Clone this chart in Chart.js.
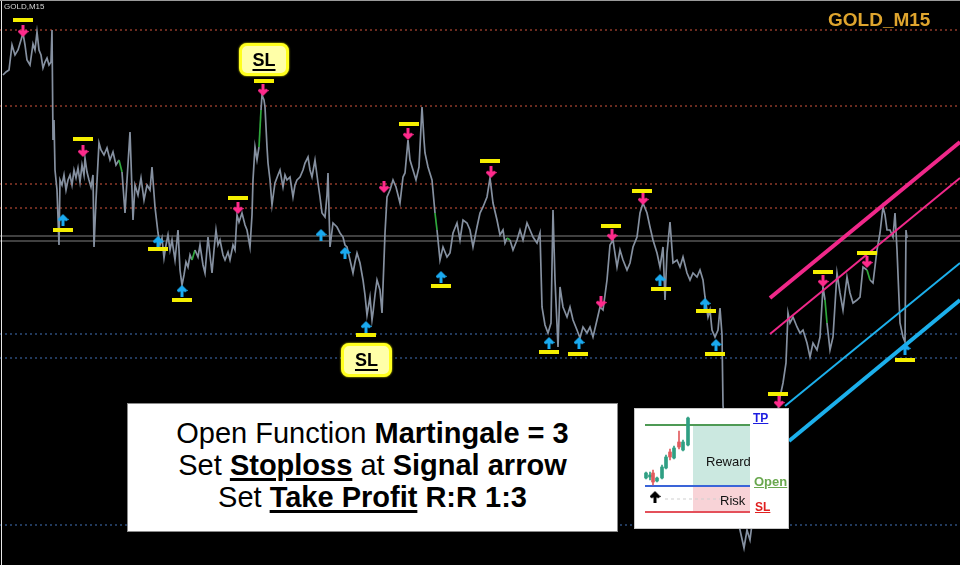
<!DOCTYPE html>
<html>
<head>
<meta charset="utf-8">
<script src="https://cdn.jsdelivr.net/npm/chart.js@4.4.0/dist/chart.umd.min.js"></script>
<style>
body{margin:0;background:#000;}
#wrap{position:relative;width:960px;height:565px;background:#000;overflow:hidden;font-family:"Liberation Sans",Arial,sans-serif;}
#main{position:absolute;left:0;top:0;}
.abs{position:absolute;white-space:nowrap;}
.slbox{position:absolute;box-sizing:border-box;background:#ffffa8;border:3px solid #ffff1e;border-radius:8px;
  display:flex;align-items:center;justify-content:center;font-weight:bold;font-size:18px;line-height:18px;color:#000;
  box-shadow:0 0 2px #ff0;}
.slbox span{text-decoration:underline;text-decoration-thickness:2px;text-underline-offset:3px;}
#note{position:absolute;left:127px;top:403px;width:491px;height:129px;box-sizing:border-box;background:#fff;border:1px solid #8a8a8a;}
#note div{position:absolute;left:0;right:0;top:13px;text-align:center;font-size:29px;line-height:32px;color:#000;}
#note u{text-decoration-thickness:3px;text-underline-offset:3px;}
#inset{position:absolute;left:635px;top:409px;background:#fff;outline:1px solid #c9c9c9;}
</style>
</head>
<body>
<div id="wrap">
  <canvas id="main" width="960" height="565"></canvas>
  <div class="abs" style="left:1px;top:0;width:1px;height:565px;background:#e8e8e8"></div>
  <div class="abs" style="left:0;top:0;width:960px;height:1px;background:#9a9a9a"></div>
  <div class="abs" style="left:4px;top:2px;font-size:8px;line-height:9px;color:#d8d8d8">GOLD,M15</div>
  <div class="abs" style="left:828px;top:10px;font-size:19px;line-height:19px;font-weight:bold;color:#dfa52e">GOLD_M15</div>
  <div class="slbox" style="left:239px;top:43px;width:50px;height:33px"><span>SL</span></div>
  <div class="slbox" style="left:341px;top:343px;width:51px;height:34px"><span>SL</span></div>
  <div id="note"><div>Open Function <b>Martingale = 3</b><br>Set <b><u>Stoploss</u></b> at <b>Signal arrow</b><br>Set <b><u>Take Profit</u></b> <b>R:R 1:3</b></div></div>
  <canvas id="inset" width="153" height="119"></canvas>
  <div class="abs" style="left:706px;top:455px;font-size:13px;line-height:13px;color:#111">Reward</div>
  <div class="abs" style="left:720px;top:494px;font-size:13px;line-height:13px;color:#111">Risk</div>
  <div class="abs" style="left:753px;top:412px;font-size:12px;line-height:12px;font-weight:bold;color:#1c1ce0;text-decoration:underline">TP</div>
  <div class="abs" style="left:754px;top:475px;font-size:13px;line-height:13px;font-weight:bold;color:#6aa84f;text-decoration:underline">Open</div>
  <div class="abs" style="left:755px;top:501px;font-size:12px;line-height:12px;font-weight:bold;color:#e02020;text-decoration:underline">SL</div>
</div>
<script>
// price trace (bar number, price)
let bars = [3,6,9,12,15,18,21,23,25,27,30,33,35,37,39,41,43,45,47,49,51,52,53,54,
  55,57,59,60,62,64,66,68,70,72,74,76,78,80,82,84,85,87,89,91,93,94,96,99,101,104,107,110,113,116,119,122,125,127,130,133,135,138,141,144,147,150,152,155,158,160,162,164,166,168,170,172,175,178,180,182,184,186,188,190,192,195,198,200,203,205,208,210,212,214,216,218,220,223,225,228,230,233,235,237,239,242,245,247,250,252,253,255,257,259,261,262,264,265,267,268,270,272,274,275,278,280,283,285,287,290,293,295,297,300,303,305,308,310,312,315,318,320,322,325,327,328,330,333,337,340,343,345,347,350,353,355,357,360,363,365,367,370,372,373,375,377,380,382,384,385,387,390,393,396,398,400,403,405,408,410,413,416,419,422,424,425,428,432,435,437,440,443,447,450,453,457,460,463,467,470,473,477,480,483,487,490,493,497,
  500,503,505,507,510,513,517,520,523,527,530,533,537,540,542,545,548,551,553,555,558,560,563,567,570,573,577,580,583,587,590,593,597,600,603,607,610,613,617,620,623,627,630,633,637,640,643,647,650,653,657,660,663,665,667,670,673,677,680,683,687,690,693,697,700,703,705,708,710,712,715,718,720,722,
  723,726,730,735,740,744,747,750,755,760,765,770,775,778,
  780,783,786,788,790,793,797,800,803,807,810,813,817,820,823,825,827,830,833,837,840,843,847,850,853,857,860,863,867,870,873,877,880,883,885,887,890,893,895,897,900,903,905,906,907];
let prices = [1992.5,1992.8,1993.0,1995.5,1994.5,1995.0,1996.0,1996.7,1995.5,1994.0,1993.5,1995.6,1995.0,1996.8,1995.0,1994.5,1993.2,1993.8,1994.2,1993.5,1993.8,1997.0,1986.0,1988.0,
  1983.0,1981.0,1975.5,1982.0,1981.5,1982.5,1981.0,1982.0,1982.5,1981.5,1983.0,1982.2,1983.2,1981.8,1983.5,1982.5,1984.2,1982.8,1982.0,1981.3,1982.5,1975.3,1980.0,1985.7,1985.0,1984.5,1985.2,1984.0,1984.8,1983.5,1984.0,1982.8,1978.7,1982.0,1986.8,1978.0,1981.5,1980.5,1982.2,1980.0,1981.5,1981.0,1983.3,1979.3,1976.7,1975.5,1976.2,1974.2,1975.5,1976.5,1975.0,1976.0,1974.0,1977.0,1973.0,1971.5,1972.5,1973.8,1973.3,1974.5,1974.0,1975.0,1974.3,1975.5,1973.5,1972.7,1976.3,1974.5,1972.7,1975.0,1977.0,1975.5,1976.0,1974.5,1974.0,1974.8,1974.0,1975.5,1975.0,1978.5,1977.8,1978.7,1977.5,1977.0,1975.3,1978.5,1982.0,1985.3,1984.0,1985.3,1989.0,1990.5,1990.0,1989.3,1985.3,1983.7,1982.0,1979.5,1981.0,1981.7,1982.5,1983.0,1981.3,1982.5,1982.0,1982.3,1980.3,1981.5,1982.0,1982.3,1983.0,1983.7,1984.3,1983.0,1982.3,1984.0,1981.7,1980.3,1978.7,1978.3,1980.5,1982.7,1975.3,1977.7,1977.3,1976.7,1976.3,1975.5,1975.3,1974.0,1972.7,1973.8,1974.7,1973.7,1972.0,1970.5,1968.5,1970.3,1968.0,1968.7,1970.5,1972.0,1971.0,1968.7,1974.0,1976.7,1980.3,1981.0,1982.0,1981.3,1980.5,1979.7,1982.3,1982.7,1986.0,1984.0,1983.0,1982.0,1983.3,1989.3,1986.0,1984.7,1983.3,1982.0,1978.7,1977.0,1974.0,1975.3,1974.3,1974.7,1976.7,1977.7,1976.0,1978.0,1977.7,1977.0,1975.3,1977.3,1978.7,1979.3,1980.3,1982.2,1979.7,1978.0,
  1976.5,1977.0,1975.7,1976.2,1976.0,1975.0,1976.0,1977.0,1976.0,1977.7,1977.0,1976.3,1975.7,1976.7,1969.3,1967.5,1966.7,1967.7,1979.0,1972.0,1965.3,1971.3,1969.3,1968.3,1969.3,1968.0,1967.0,1966.2,1967.3,1966.7,1967.3,1966.3,1968.0,1969.3,1969.0,1972.0,1975.5,1976.0,1973.3,1975.0,1974.0,1973.0,1973.7,1975.3,1976.3,1978.7,1979.7,1978.7,1977.3,1976.0,1974.7,1973.3,1975.3,1970.0,1974.7,1977.8,1973.7,1974.0,1973.3,1974.3,1972.7,1972.0,1972.7,1972.3,1973.0,1972.0,1970.3,1968.3,1969.0,1967.0,1966.3,1967.0,1969.2,1966.5,
  1959.5,1956.0,1952.0,1949.0,1947.0,1945.2,1947.0,1946.0,1950.0,1952.0,1954.0,1956.0,1958.0,1959.0,
  1960.3,1961.7,1963.7,1968.7,1967.7,1968.3,1967.3,1966.7,1967.0,1965.7,1964.3,1965.7,1965.0,1966.3,1971.3,1970.0,1967.7,1965.0,1966.3,1972.7,1970.7,1969.0,1972.3,1970.7,1969.7,1970.0,1970.3,1973.3,1973.0,1972.0,1971.7,1975.0,1976.7,1979.3,1978.5,1977.0,1977.0,1976.3,1978.7,1975.0,1967.7,1966.3,1965.8,1977.0,1976.2];
let greenBars = [119,192,259,435,507,825,867];

let resistLevels = [1997.0,1989.4,1981.6,1979.2];
let supportLevels = [1966.6,1964.2,1947.5];
let bidAsk = [1976.4,1975.9];

// sell signals: yellow mark above, arrow below it
let sellMarkBars = [23,83,238,264,409,490,611,642,778,823,867];
let sellMarkPrices = [1998.0,1986.1,1980.2,1991.9,1987.6,1983.9,1977.4,1980.9,1960.6,1972.8,1974.7];
let sellArrowBars = [23,83,238,263,408,384,491,612,601,643,779,823,867];
let sellArrowPrices = [1996.9,1984.9,1979.2,1991.0,1986.6,1981.3,1982.8,1976.5,1969.8,1980.1,1959.8,1971.9,1973.8];
// buy signals
let buyMarkBars = [63,158,182,366,441,549,578,661,706,715,905];
let buyMarkPrices = [1977.0,1975.1,1970.0,1966.5,1971.4,1964.8,1964.6,1971.1,1968.9,1964.6,1964.0];
let buyArrowBars = [63,158,182,321,345,366,441,549,579,660,705,716,905];
let buyArrowPrices = [1978.0,1975.8,1970.9,1976.5,1974.7,1967.3,1972.3,1965.7,1965.7,1972.0,1969.6,1965.5,1965.1];

// channels [startBar, startPrice, endBar, endPrice]
let sellChannelOuter = [770,1970.2,960,1985.8];
let sellChannelInner = [770,1966.6,960,1982.2];
let buyChannelInner = [785,1959.4,960,1973.7];
let buyChannelOuter = [789,1955.9,960,1970.0];

// small R:R picture
let candleX = [11,15,18,22,27,31,35,39,44,48,53];
let candleOpen = [50,51,55,47,50,60,76,70,86,78,83];
let candleClose = [55,53,46,50,61,71,71,80,81,86,110];
let candleHigh = [56,56,58,51,63,73,79,82,97,88,111];
let candleLow = [49,48,43,46,49,59,68,69,79,77,82];
let tpLevel = 103, openLevel = 42, slLevel = 16;
let entryBar = 58, lastBar = 115, firstBar = 10;
let signalX = 20, signalY = 31;

function arrowImg(color, up){
    var c = document.createElement('canvas');
    c.width = 11; c.height = 12;
    var g = c.getContext('2d');
    var pts = [[5.5,0],[11,5.5],[8.5,7.5],[7,6],[7,12],[4,12],[4,6],[2.5,7.5],[0,5.5]];
    g.fillStyle = color;
    g.beginPath();
    for(let i=0;i<pts.length;i++){
        let yy = up ? pts[i][1] : 12 - pts[i][1];
        if(i==0) g.moveTo(pts[i][0],yy); else g.lineTo(pts[i][0],yy);
    }
    g.closePath();
    g.fill();
    return c;
}

function pts(xs, ys){
    return xs.map(function(x,i){ return {x:x, y:ys[i]}; });
}

function hline(p, color, dash, order){
    return {data:[{x:0,y:p},{x:960,y:p}], borderColor:color, borderWidth:1, borderDash:dash, pointRadius:0, order:order};
}

function seg(c, color, w){
    return {data:[{x:c[0],y:c[1]},{x:c[2],y:c[3]}], borderColor:color, borderWidth:w, pointRadius:0, order:3};
}

var datasets = [];
resistLevels.forEach(function(p){ datasets.push(hline(p,'#d5573f',[2,3],10)); });
supportLevels.forEach(function(p){ datasets.push(hline(p,'#4272b8',[2,3],10)); });
bidAsk.forEach(function(p){ datasets.push(hline(p,'#808080',[],10)); });

datasets.push({
    data: pts(bars, prices),
    borderColor: '#8590a0',
    borderWidth: 1.7,
    pointRadius: 0,
    order: 6,
    segment: {
        borderColor: function(ctx){ return greenBars.includes(bars[ctx.p0DataIndex]) ? '#2fa83c' : undefined; }
    }
});

datasets.push(seg(sellChannelOuter,'#f0288a',4));
datasets.push(seg(sellChannelInner,'#f0288a',2));
datasets.push(seg(buyChannelInner,'#1cb0ec',2));
datasets.push(seg(buyChannelOuter,'#1cb0ec',4));

var mark = {showLine:false, pointStyle:'line', pointRadius:10, pointBorderWidth:4, pointBorderColor:'#f5ef00', order:1};
datasets.push(Object.assign({data: pts(sellMarkBars, sellMarkPrices)}, mark));
datasets.push(Object.assign({data: pts(buyMarkBars, buyMarkPrices)}, mark));
datasets.push({data: pts(sellArrowBars, sellArrowPrices), showLine:false, pointStyle:arrowImg('#ff2a8c',false), pointRadius:6, order:1});
datasets.push({data: pts(buyArrowBars, buyArrowPrices), showLine:false, pointStyle:arrowImg('#1aaaf0',true), pointRadius:6, order:1});

new Chart(document.getElementById('main'), {
    type: 'line',
    data: {datasets: datasets},
    options: {
        responsive: false,
        animation: false,
        events: [],
        layout: {padding: 0, autoPadding: false},
        plugins: {legend: {display:false}, tooltip: {enabled:false}},
        scales: {
            x: {type:'linear', min:0, max:960, display:false},
            y: {type:'linear', min:1943.5, max:2000, display:false}
        }
    }
});

// inset
var upC = '#2f9f83', dnC = '#e15b5e';
var cColors = candleX.map(function(x,i){ return candleClose[i] >= candleOpen[i] ? upC : dnC; });
var inset = [];
inset.push({type:'line', data:[{x:entryBar,y:tpLevel},{x:lastBar,y:tpLevel}], fill:{value:openLevel}, backgroundColor:'#cbe8e0', borderWidth:0, pointRadius:0, order:9});
inset.push({type:'line', data:[{x:entryBar,y:openLevel},{x:lastBar,y:openLevel}], fill:{value:slLevel}, backgroundColor:'#f8d3d7', borderWidth:0, pointRadius:0, order:9});
inset.push({type:'line', data:[{x:30,y:29},{x:100,y:29}], borderColor:'#d0d0d0', borderWidth:1, borderDash:[3,3], pointRadius:0, order:8});
inset.push({type:'line', data:[{x:firstBar,y:tpLevel},{x:lastBar,y:tpLevel}], borderColor:'#4e9a55', borderWidth:2, pointRadius:0, order:5});
inset.push({type:'line', data:[{x:firstBar,y:openLevel},{x:lastBar,y:openLevel}], borderColor:'#3a64d8', borderWidth:2, pointRadius:0, order:5});
inset.push({type:'line', data:[{x:firstBar,y:slLevel},{x:lastBar,y:slLevel}], borderColor:'#e4505a', borderWidth:2, pointRadius:0, order:5});
inset.push({type:'bar', data:candleX.map(function(x,i){ return {x:x, y:[candleLow[i],candleHigh[i]]}; }), backgroundColor:cColors, barThickness:1, grouped:false, order:2});
inset.push({type:'bar', data:candleX.map(function(x,i){ return {x:x, y:[candleOpen[i],candleClose[i]]}; }), backgroundColor:cColors, barThickness:3, grouped:false, order:1});
inset.push({type:'scatter', data:[{x:signalX,y:signalY}], pointStyle:arrowImg('#000',true), pointRadius:5, order:1});

new Chart(document.getElementById('inset'), {
    type: 'bar',
    data: {datasets: inset},
    options: {
        responsive: false,
        animation: false,
        events: [],
        layout: {padding: 0, autoPadding: false},
        plugins: {legend: {display:false}, tooltip: {enabled:false}},
        scales: {
            x: {type:'linear', min:0, max:153, offset:false, display:false},
            y: {type:'linear', min:0, max:119, display:false}
        }
    }
});
</script>
</body>
</html>
